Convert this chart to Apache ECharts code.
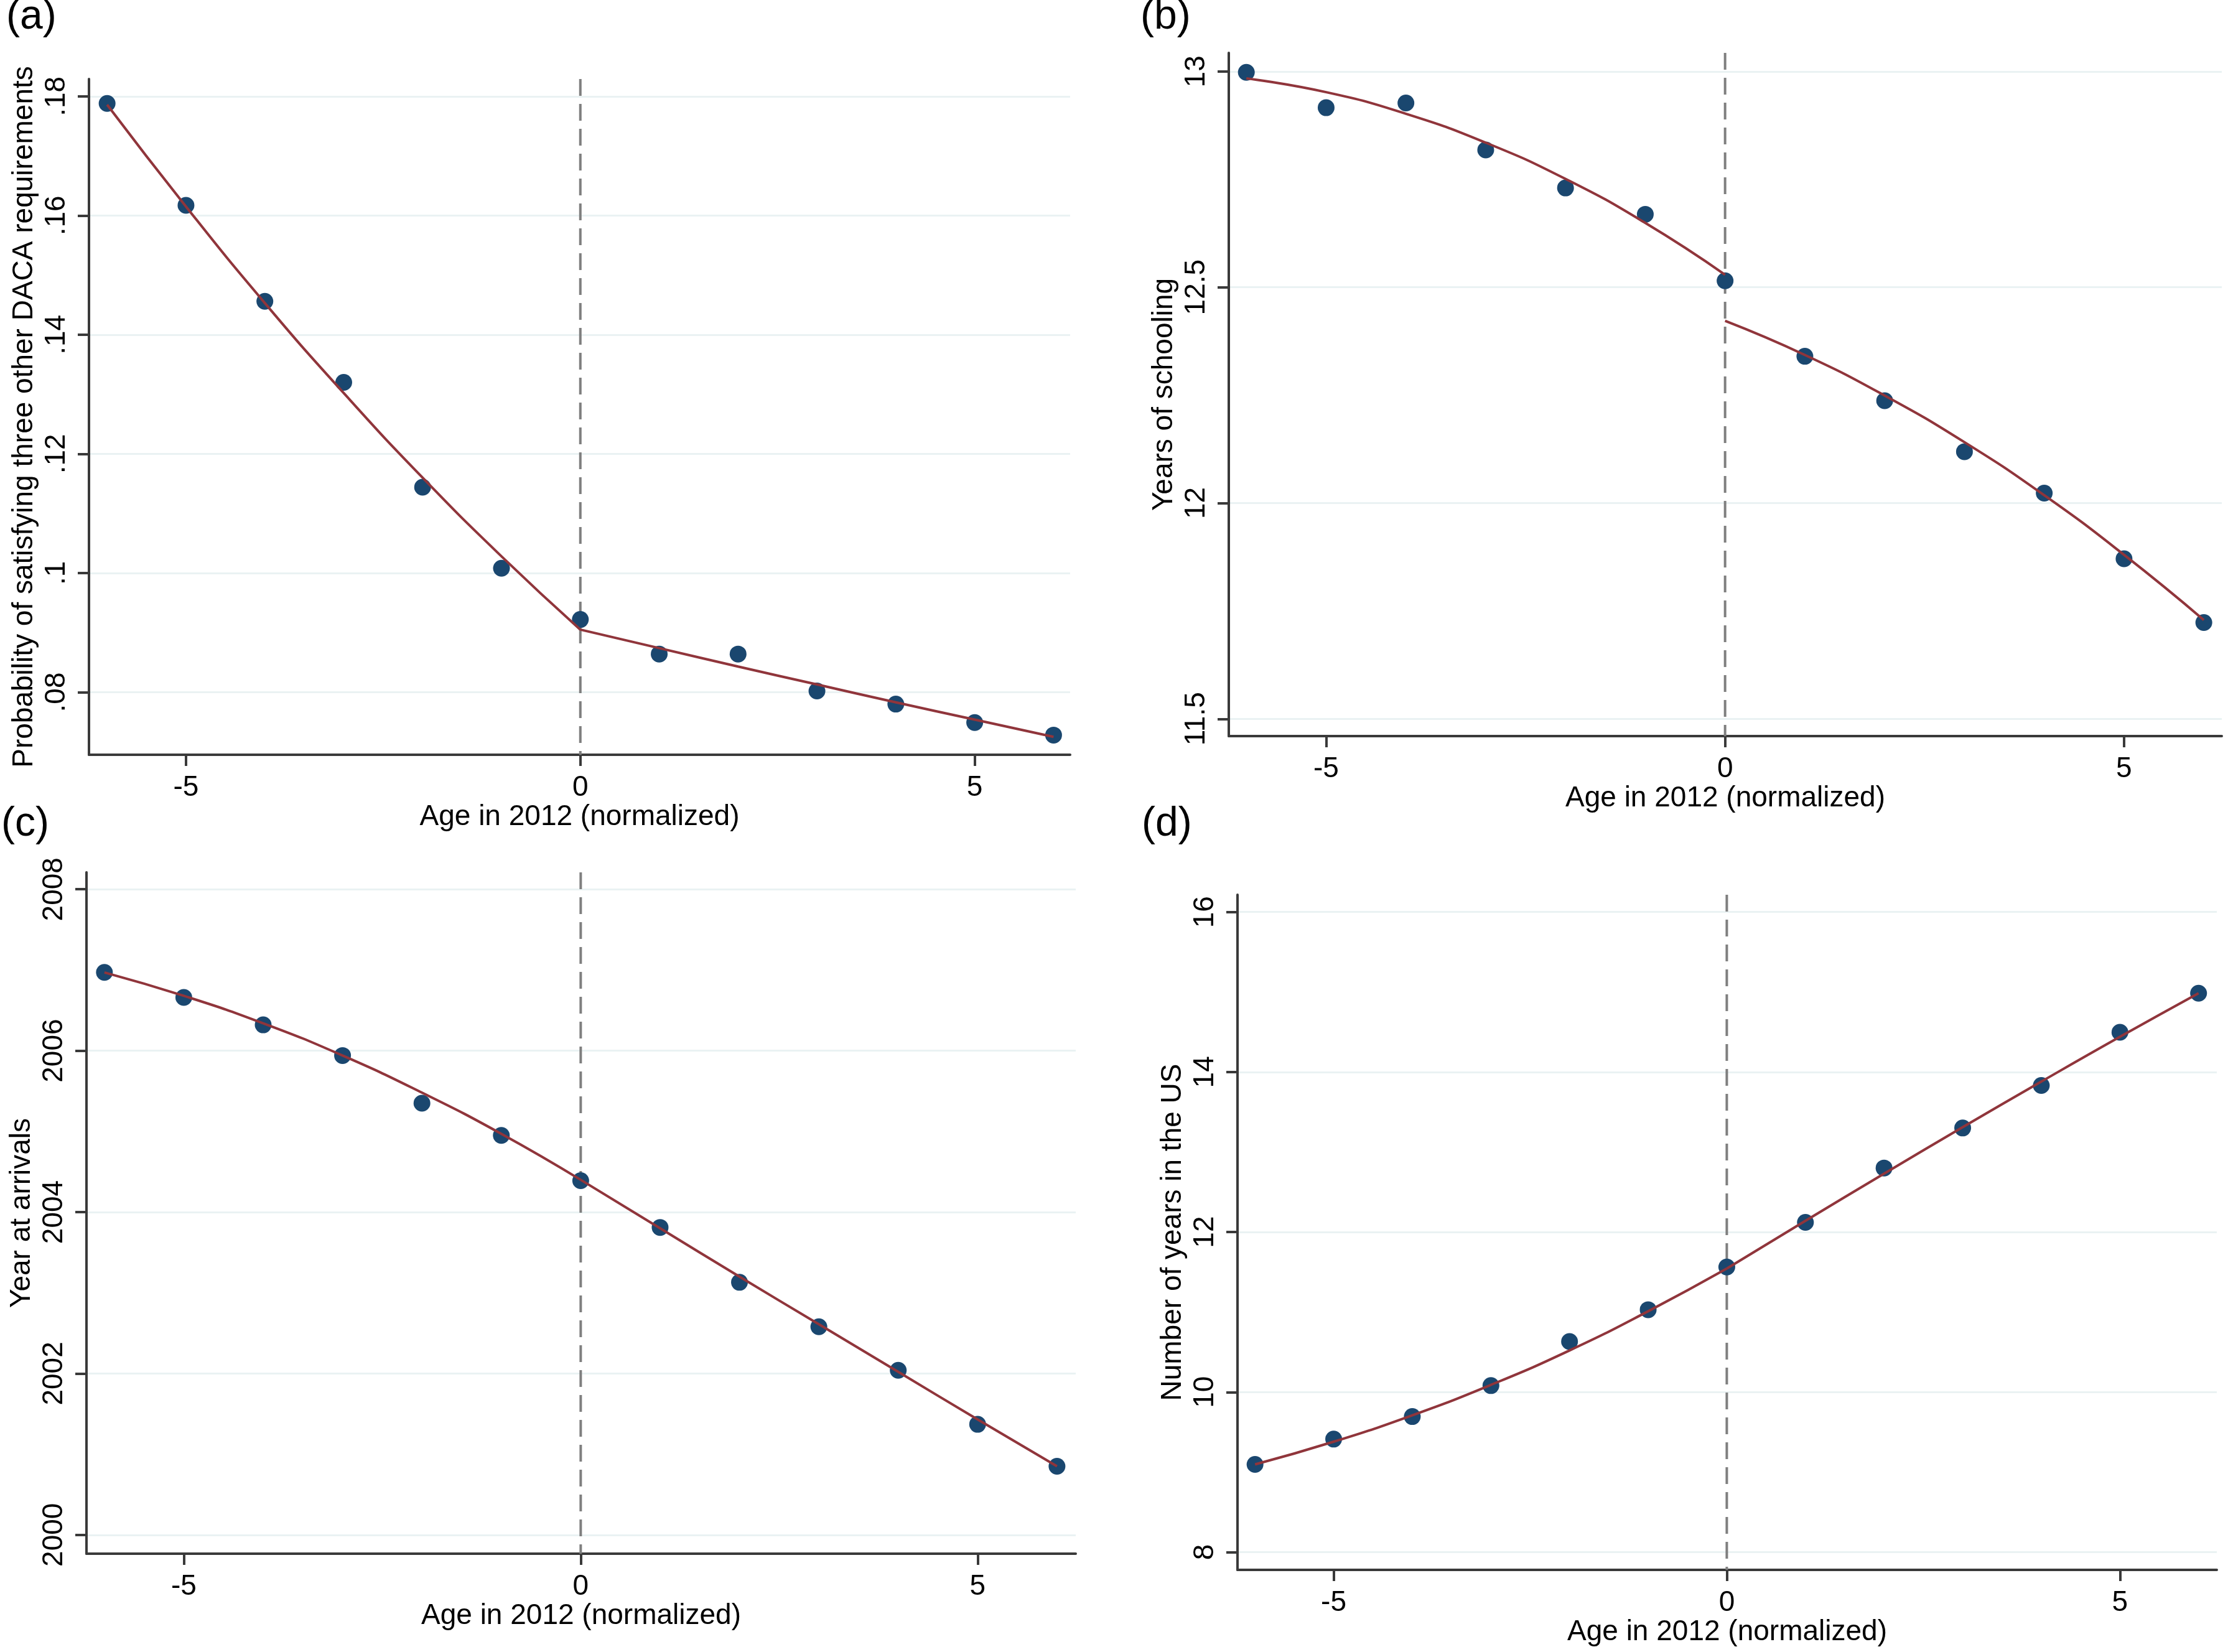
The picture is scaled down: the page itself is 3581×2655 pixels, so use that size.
<!DOCTYPE html>
<html>
<head>
<meta charset="utf-8">
<script src="https://cdn.jsdelivr.net/npm/echarts/dist/echarts.min.js"></script>
<style>
html,body{margin:0;padding:0;background:#fff;}
#chart{width:3581px;height:2655px;}
</style>
</head>
<body>
<div id="chart"></div>
<script>
// ---------- data ----------
const ages = [-6, -5, -4, -3, -2, -1, 0, 1, 2, 3, 4, 5, 6];
const agesLeft = [-6, -5, -4, -3, -2, -1, 0];
const agesRight = [0, 1, 2, 3, 4, 5, 6];

const xTicks = [-5, 0, 5];
const xTitle = 'Age in 2012 (normalized)';

// (a) probability of satisfying three other DACA requirements
const aPoints = [0.1788, 0.1617, 0.1456, 0.1320, 0.1144, 0.1008, 0.0922, 0.0864, 0.0864, 0.0802, 0.0780, 0.0749, 0.0728];
const aFitLeft = [0.1786, 0.1615, 0.1453, 0.1302, 0.1160, 0.1028, 0.0905];
const aFitRight = [0.0905, 0.0874, 0.0843, 0.0813, 0.0783, 0.0754, 0.0725];
const aTicks = [0.08, 0.10, 0.12, 0.14, 0.16, 0.18];
const aTickLabels = ['.08', '.1', '.12', '.14', '.16', '.18'];
const aTitle = 'Probability of satisfying three other DACA requirements';

// (b) years of schooling
const bPoints = [12.998, 12.916, 12.927, 12.818, 12.730, 12.669, 12.515, 12.340, 12.237, 12.119, 12.023, 11.871, 11.723];
const bFitLeft = [12.984, 12.952, 12.902, 12.835, 12.751, 12.649, 12.529];
const bFitRight = [12.422, 12.343, 12.249, 12.141, 12.018, 11.880, 11.729];
const bTicks = [11.5, 12, 12.5, 13];
const bTickLabels = ['11.5', '12', '12.5', '13'];
const bTitle = 'Years of schooling';

// (c) year at arrivals
const cPoints = [2006.97, 2006.66, 2006.32, 2005.94, 2005.35, 2004.95, 2004.39, 2003.81, 2003.13, 2002.58, 2002.04, 2001.37, 2000.85];
const cFitLeft = [2006.97, 2006.68, 2006.34, 2005.94, 2005.48, 2004.97, 2004.40];
const cFitRight = [2004.40, 2003.80, 2003.20, 2002.61, 2002.02, 2001.43, 2000.85];
const cTicks = [2000, 2002, 2004, 2006, 2008];
const cTickLabels = ['2000', '2002', '2004', '2006', '2008'];
const cTitle = 'Year at arrivals';

// (d) number of years in the US
const dPoints = [9.096, 9.412, 9.694, 10.081, 10.632, 11.029, 11.563, 12.121, 12.80, 13.30, 13.832, 14.497, 14.985];
const dFitLeft = [9.096, 9.38, 9.71, 10.09, 10.52, 11.01, 11.543];
const dFitRight = [11.543, 12.14, 12.73, 13.31, 13.88, 14.44, 14.985];
const dTicks = [8, 10, 12, 14, 16];
const dTickLabels = ['8', '10', '12', '14', '16'];
const dTitle = 'Number of years in the US';

const panelLabels = ['(a)', '(b)', '(c)', '(d)'];

// ---------- layout / style ----------
const FONT = 'Liberation Sans';
const FS = 46;
const AXIS_COLOR = '#3a3a3a';
const GRID_COLOR = '#eaf2f3';
const DOT_COLOR = '#1a476f';
const FIT_COLOR = '#90353b';
const XLINE_COLOR = '#7f7f7f';

const panels = [
  {pts: aPoints, fl: aFitLeft, fr: aFitRight, ticks: aTicks, labels: aTickLabels, title: aTitle,
   grid: {left: 143, top: 127, width: 1577, height: 1086}, x: [-6.23, 6.21], y: [0.0695, 0.1829]},
  {pts: bPoints, fl: bFitLeft, fr: bFitRight, ticks: bTicks, labels: bTickLabels, title: bTitle,
   grid: {left: 1975, top: 85, width: 1596, height: 1098}, x: [-6.22, 6.225], y: [11.46, 13.043]},
  {pts: cPoints, fl: cFitLeft, fr: cFitRight, ticks: cTicks, labels: cTickLabels, title: cTitle,
   grid: {left: 139, top: 1402, width: 1590, height: 1095}, x: [-6.226, 6.236], y: [1999.767, 2008.21]},
  {pts: dPoints, fl: dFitLeft, fr: dFitRight, ticks: dTicks, labels: dTickLabels, title: dTitle,
   grid: {left: 1989, top: 1438, width: 1574, height: 1085}, x: [-6.223, 6.232], y: [7.778, 16.215]}
];
const labelPos = [[10, -5], [1833, -5], [2, 1292], [1835, 1292]];

const grids = [], xAxes = [], yAxes = [], series = [];
panels.forEach((p, i) => {
  grids.push(Object.assign({containLabel: false}, p.grid));
  xAxes.push({
    type: 'value', gridIndex: i, min: p.x[0], max: p.x[1],
    name: xTitle, nameLocation: 'middle', nameGap: 74,
    nameTextStyle: {fontFamily: FONT, fontSize: FS, color: '#000'},
    axisLine: {show: true, onZero: false, lineStyle: {color: AXIS_COLOR, width: 4}},
    axisTick: {show: true, length: 18, lineStyle: {color: AXIS_COLOR, width: 4}, customValues: xTicks},
    axisLabel: {fontFamily: FONT, fontSize: FS, color: '#000', margin: 30, customValues: xTicks},
    splitLine: {show: false}
  });
  const labs = p.labels, tks = p.ticks;
  yAxes.push({
    type: 'value', gridIndex: i, min: p.y[0], max: p.y[1],
    name: p.title, nameLocation: 'middle', nameGap: 81,
    nameTextStyle: {fontFamily: FONT, fontSize: FS, color: '#000'},
    axisLine: {show: true, onZero: false, lineStyle: {color: AXIS_COLOR, width: 4}},
    axisTick: {show: true, length: 18, lineStyle: {color: AXIS_COLOR, width: 4}, customValues: tks},
    axisLabel: {fontFamily: FONT, fontSize: FS, color: '#000', margin: 29, rotate: 90,
      customValues: tks,
      formatter: function (v) {
        for (let k = 0; k < tks.length; k++) { if (Math.abs(tks[k] - v) < 1e-6) return labs[k]; }
        return '';
      }},
    splitLine: {show: true, lineStyle: {color: GRID_COLOR, width: 3}}
  });
  // dashed reference line at 0
  series.push({
    type: 'line', xAxisIndex: i, yAxisIndex: i, z: 1, silent: true, symbol: 'none',
    data: [[0, p.y[1]], [0, p.y[0]]],
    lineStyle: {color: XLINE_COLOR, width: 4, type: [27, 13]}, animation: false
  });
  series.push({
    type: 'scatter', xAxisIndex: i, yAxisIndex: i, z: 2, symbolSize: 27,
    itemStyle: {color: DOT_COLOR, opacity: 1},
    data: ages.map((a, k) => [a, p.pts[k]]), animation: false
  });
  series.push({
    type: 'line', xAxisIndex: i, yAxisIndex: i, z: 3, symbol: 'none', smooth: true,
    lineStyle: {color: FIT_COLOR, width: 4},
    data: agesLeft.map((a, k) => [a, p.fl[k]]), animation: false
  });
  series.push({
    type: 'line', xAxisIndex: i, yAxisIndex: i, z: 3, symbol: 'none', smooth: true,
    lineStyle: {color: FIT_COLOR, width: 4},
    data: agesRight.map((a, k) => [a, p.fr[k]]), animation: false
  });
});

const graphics = panelLabels.map((t, i) => ({
  type: 'text', left: labelPos[i][0], top: labelPos[i][1],
  style: {text: t, fontFamily: FONT, fontSize: 66, fill: '#000'}
}));

const chart = echarts.init(document.getElementById('chart'), null, {renderer: 'canvas'});
chart.setOption({
  backgroundColor: '#ffffff',
  animation: false,
  grid: grids,
  xAxis: xAxes,
  yAxis: yAxes,
  series: series,
  graphic: graphics
});
</script>
</body>
</html>
